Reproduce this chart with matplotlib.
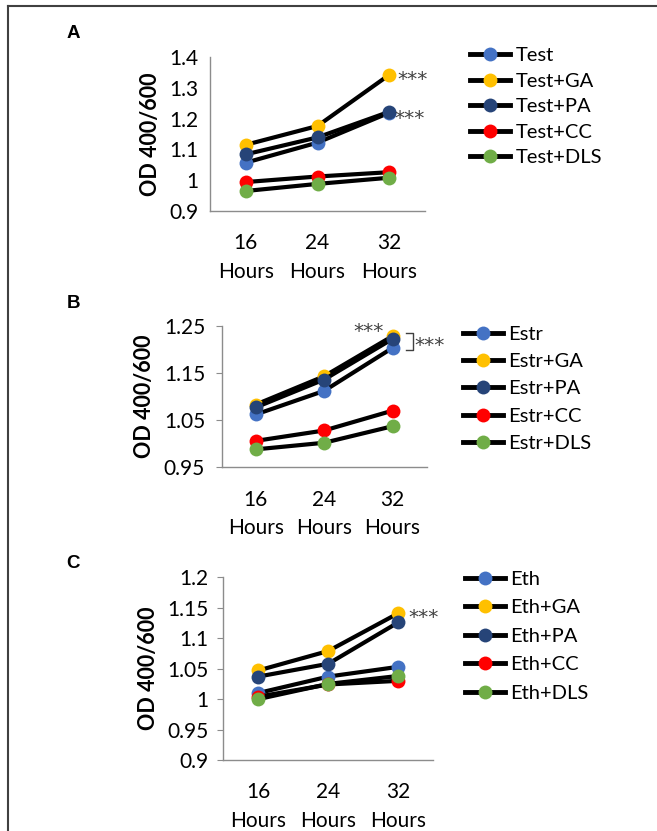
import matplotlib.pyplot as plt
from matplotlib.lines import Line2D
from matplotlib.ticker import FuncFormatter

# ---------------------------
# Data (OD 400/600)
# ---------------------------
hours = ["16\nHours", "24\nHours", "32\nHours"]
groups = ["", "+GA", "+PA", "+CC", "+DLS"]
colors = ["#4472C4", "#FFC000", "#264478", "#FF0000", "#70AD47"]

test_vals = [
    [1.057, 1.122, 1.219],   # Test
    [1.115, 1.176, 1.342],   # Test+GA
    [1.084, 1.139, 1.222],   # Test+PA
    [0.994, 1.012, 1.026],   # Test+CC
    [0.965, 0.988, 1.008],   # Test+DLS
]
estr_vals = [
    [1.062, 1.112, 1.203],
    [1.083, 1.143, 1.228],
    [1.077, 1.136, 1.222],
    [1.006, 1.028, 1.070],
    [0.988, 1.002, 1.037],
]
eth_vals = [
    [1.010, 1.037, 1.053],
    [1.047, 1.079, 1.141],
    [1.037, 1.058, 1.126],
    [1.004, 1.024, 1.030],
    [1.000, 1.025, 1.038],
]

plt.rcParams['font.family'] = ['Lato', 'DejaVu Sans']

W, H = 657, 831
fig = plt.figure(figsize=(W / 100, H / 100), dpi=100)


def px_axes(left, right, top, bottom):
    return fig.add_axes([left / W, 1 - bottom / H, (right - left) / W, (bottom - top) / H])


def setup(ax, yticks, ticklen, ypad):
    ax.set_xlim(-0.5, 2.5)
    ax.set_ylim(yticks[0], yticks[-1])
    ax.set_yticks(yticks)
    ax.yaxis.set_major_formatter(FuncFormatter(lambda v, p: f"{v:g}"))
    ax.set_xticks(range(len(hours)))
    ax.set_xticklabels(hours, linespacing=1.55)
    for s in ["top", "right"]:
        ax.spines[s].set_visible(False)
    for s in ["left", "bottom"]:
        ax.spines[s].set_color("#8C8C8C")
        ax.spines[s].set_linewidth(1.0)
    ax.tick_params(axis="y", length=ticklen, color="#8C8C8C", labelsize=15, pad=ypad)
    ax.tick_params(axis="x", length=0, labelsize=15, pad=16)
    ax.set_ylabel("OD 400/600", fontsize=15.5, fontweight="bold", labelpad=6)


def draw(ax, vals, prefix, leg_anchor, spacing):
    for v, g, c in zip(vals, groups, colors):
        ax.plot(range(len(hours)), v, color="black", lw=3, marker="o", ms=10,
                mfc=c, mec=c, mew=0, label=prefix + g, solid_capstyle="round",
                clip_on=False)
    handles = [Line2D([], [], color="black", lw=3.5, marker="o", ms=10, mfc=c, mec=c, mew=0)
               for c in colors]
    ax.legend(handles, [prefix + g for g in groups], loc="upper left",
              bbox_to_anchor=(leg_anchor[0] / W, 1 - leg_anchor[1] / H),
              bbox_transform=fig.transFigure, frameon=False, fontsize=14.5,
              borderpad=0, borderaxespad=0, handlelength=2.0, handletextpad=0.25,
              labelspacing=spacing)


star_kw = dict(fontsize=14.5, color="#404040", va="center", ha="left",
               family="DejaVu Sans", textcoords="offset points", annotation_clip=False)

# Panel A
axA = px_axes(210, 425, 57, 211)
setup(axA, [0.9, 1.0, 1.1, 1.2, 1.3, 1.4], 0, 8.5)
draw(axA, test_vals, "Test", (470, 47), 0.42)
axA.annotate("***", xy=(2, test_vals[1][2]), xytext=(6, -3), **star_kw)
axA.annotate("***", xy=(2, test_vals[2][2]), xytext=(4, -5), **star_kw)

# Panel B
axB = px_axes(221.7, 426.7, 325.7, 467.3)
setup(axB, [0.95, 1.05, 1.15, 1.25], 4, 8)
draw(axB, estr_vals, "Estr", (463, 326), 0.5)
axB.annotate("***", xy=(2, estr_vals[1][2]), xytext=(-28, 3), **star_kw)
b_top = max(estr_vals[1][2], estr_vals[2][2]) + 0.007
b_bot = estr_vals[0][2] - 0.005
axB.plot([2.2, 2.3, 2.3, 2.2], [b_top, b_top, b_bot, b_bot], color="#404040",
         lw=1, clip_on=False)
axB.annotate("***", xy=(2.3, (b_top + b_bot) / 2), xytext=(1, -3), **star_kw)

# Panel C
axC = px_axes(223.3, 433.3, 577.3, 760)
setup(axC, [0.9, 0.95, 1.0, 1.05, 1.1, 1.15, 1.2], 4, 6.5)
draw(axC, eth_vals, "Eth", (465, 571), 0.56)
axC.annotate("***", xy=(2, eth_vals[1][2]), xytext=(7, -3), **star_kw)

# Panel letters
for lab, y in zip(["A", "B", "C"], [33, 304, 563]):
    fig.text(73 / W, 1 - y / H, lab, fontsize=13.5, fontweight="bold",
             family="Liberation Sans", ha="center", va="center")

# Frame border (top + left)
fig.add_artist(Line2D([8 / W, 1], [1 - 6 / H, 1 - 6 / H], color="#404040", lw=1.5))
fig.add_artist(Line2D([8 / W, 8 / W], [0, 1 - 6 / H], color="#404040", lw=1.5))

fig.savefig("out.png", dpi=100)
